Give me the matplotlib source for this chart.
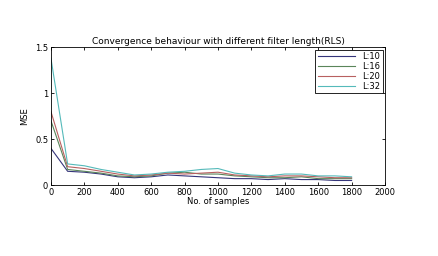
import numpy as np
import matplotlib.pyplot as plt

# 取样点与各滤波器长度的MSE
samples = [0, 100, 200, 300, 400, 500, 600, 700, 800, 900,
           1000, 1100, 1200, 1300, 1400, 1500, 1600, 1700, 1800]
mse_L10 = [0.40, 0.15, 0.14, 0.12, 0.09, 0.08, 0.09, 0.11, 0.10, 0.09,
           0.08, 0.07, 0.07, 0.06, 0.07, 0.06, 0.06, 0.05, 0.05]
mse_L16 = [0.70, 0.17, 0.15, 0.13, 0.10, 0.09, 0.10, 0.13, 0.14, 0.12,
           0.12, 0.10, 0.09, 0.08, 0.08, 0.09, 0.07, 0.07, 0.07]
mse_L20 = [0.80, 0.20, 0.18, 0.15, 0.12, 0.10, 0.11, 0.13, 0.12, 0.13,
           0.14, 0.11, 0.10, 0.09, 0.10, 0.10, 0.09, 0.08, 0.08]
mse_L32 = [1.38, 0.23, 0.21, 0.17, 0.14, 0.11, 0.12, 0.14, 0.15, 0.17,
           0.18, 0.13, 0.11, 0.10, 0.12, 0.12, 0.10, 0.10, 0.09]
labels = ['L:10', 'L:16', 'L:20', 'L:32']

fig = plt.figure(figsize=(4.39, 2.56), dpi=100)
ax = fig.add_axes([0.116, 0.277, 0.761, 0.539])

ax.plot(samples, mse_L10, color='#35357a', lw=0.8, label=labels[0])
ax.plot(samples, mse_L16, color='#5a855a', lw=0.8, label=labels[1])
ax.plot(samples, mse_L20, color='#b86060', lw=0.8, label=labels[2])
ax.plot(samples, mse_L32, color='#55baba', lw=0.8, label=labels[3])

ax.set_xlim(0, 2000)
ax.set_ylim(0, 1.5)
ax.set_xticks(range(0, 2001, 200))
ax.set_yticks([0, 0.5, 1, 1.5])
ax.set_yticklabels(['0', '0.5', '1', '1.5'])
ax.tick_params(direction='in', top=True, right=True, labelsize=6, length=2.5, width=0.6, pad=2)
for s in ax.spines.values():
    s.set_linewidth(0.6)

ax.set_title('Convergence behaviour with different filter length(RLS)', fontsize=6.5, pad=2)
ax.set_xlabel('No. of samples', fontsize=6, labelpad=0)
ax.set_ylabel('MSE', fontsize=6, labelpad=4)

leg = ax.legend(loc='upper right', fontsize=6, fancybox=False, framealpha=1,
                edgecolor='black', handlelength=4.5, borderpad=0.3,
                labelspacing=0.1, borderaxespad=0.3)
leg.get_frame().set_linewidth(0.6)

plt.savefig('out.png', dpi=100)
